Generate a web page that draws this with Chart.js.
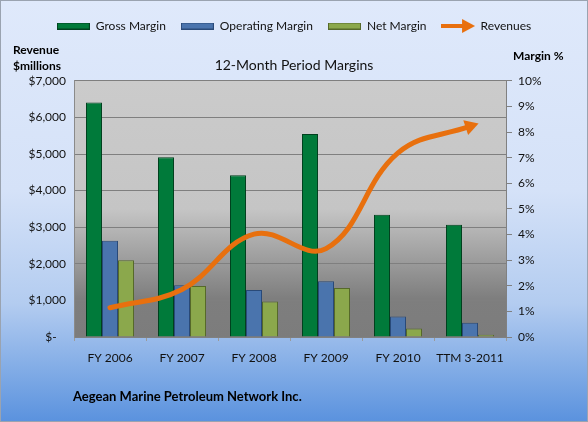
<!DOCTYPE html>
<html>
<head>
<meta charset="utf-8">
<script src="https://cdn.jsdelivr.net/npm/chart.js@4/dist/chart.umd.min.js"></script>
<style>
  html, body { margin: 0; padding: 0; background: #fff; }
  #wrap { width: 588px; height: 422px; }
</style>
</head>
<body>
<div id="wrap"><canvas id="chart" width="588" height="422"></canvas></div>
<script>
// data
const periods = ["FY 2006", "FY 2007", "FY 2008", "FY 2009", "FY 2010", "TTM 3-2011"];
const grossMargin = [9.15, 7.02, 6.31, 7.92, 4.77, 4.38];      // %
const operatingMargin = [3.76, 2.02, 1.83, 2.18, 0.8, 0.56];   // %
const netMargin = [3.0, 1.99, 1.39, 1.91, 0.33, 0.09];         // %
const revenues = [800, 1300, 2810, 2415, 5030, 5760];          // $ millions
const revenueTicks = [0, 1000, 2000, 3000, 4000, 5000, 6000, 7000];
const marginTicks = [0, 1, 2, 3, 4, 5, 6, 7, 8, 9, 10];

const FONT = "Lato, 'Open Sans', sans-serif";
const ORANGE = "#e8700e";

// little legend swatches
function swatch(fill, edge) {
  const c = document.createElement("canvas");
  c.width = 33; c.height = 7;
  const g = c.getContext("2d");
  g.fillStyle = edge; g.fillRect(0, 0, 33, 7);
  g.fillStyle = fill; g.fillRect(1, 1, 31, 5);
  return c;
}
function arrowSwatch() {
  const c = document.createElement("canvas");
  c.width = 34; c.height = 14;
  const g = c.getContext("2d");
  g.strokeStyle = ORANGE; g.fillStyle = ORANGE; g.lineWidth = 4;
  g.beginPath(); g.moveTo(0, 7); g.lineTo(24, 7); g.stroke();
  g.beginPath(); g.moveTo(34, 7); g.lineTo(21, 0); g.lineTo(21, 14); g.closePath(); g.fill();
  return c;
}
const legendIcons = [
  swatch("#007a3a", "#00401e"),
  swatch("#4a74ad", "#2a4a78"),
  swatch("#8ba84c", "#56692a"),
  arrowSwatch()
];

const backdrop = {
  id: "backdrop",
  beforeDraw(chart) {
    const { ctx, width, height, chartArea: a } = chart;
    ctx.save();
    let g = ctx.createLinearGradient(0, 0, 0, height);
    g.addColorStop(0, "#dfe9fb");
    g.addColorStop(0.45, "#d5e2f8");
    g.addColorStop(0.72, "#b3ccf0");
    g.addColorStop(1, "#5a92de");
    ctx.fillStyle = g;
    ctx.fillRect(0, 0, width, height);
    ctx.strokeStyle = "#9aa3b0";
    ctx.lineWidth = 1;
    ctx.strokeRect(0.5, 0.5, width - 1, height - 1);

    g = ctx.createLinearGradient(0, a.top, 0, a.bottom);
    g.addColorStop(0, "#cbcbcb");
    g.addColorStop(0.5, "#c5c5c5");
    g.addColorStop(0.85, "#7e7e7e");
    g.addColorStop(1, "#7c7c7c");
    ctx.fillStyle = g;
    ctx.fillRect(a.left, a.top, a.right - a.left, a.bottom - a.top);
    ctx.restore();
  },
  afterDraw(chart) {
    const { ctx } = chart;
    ctx.save();
    ctx.fillStyle = "#000";
    ctx.textBaseline = "middle";
    ctx.textAlign = "left";
    ctx.font = "bold 12px " + FONT;
    ctx.fillText("Revenue", 13, 50);
    ctx.fillText("$millions", 13, 66);
    ctx.fillText("Margin %", 513, 56);
    ctx.font = "bold 13px " + FONT;
    ctx.fillText("Aegean Marine Petroleum Network Inc.", 73, 397);
    ctx.restore();
  }
};

const barStyle = (fill, edge) => ({
  backgroundColor: fill,
  borderColor: edge,
  borderWidth: 1,
  yAxisID: "y1",
  order: 1,
  barPercentage: 1,
  categoryPercentage: 0.667
});

new Chart(document.getElementById("chart"), {
  type: "bar",
  data: {
    labels: periods,
    datasets: [
      { label: "Gross Margin", data: grossMargin, ...barStyle("#007a3a", "#00401e") },
      { label: "Operating Margin", data: operatingMargin, ...barStyle("#4a74ad", "#2a4a78") },
      { label: "Net Margin", data: netMargin, ...barStyle("#8ba84c", "#56692a") },
      {
        type: "line",
        label: "Revenues",
        data: revenues,
        yAxisID: "y",
        order: 0,
        borderColor: ORANGE,
        backgroundColor: ORANGE,
        borderWidth: 5,
        borderCapStyle: "round",
        tension: 0.4,
        pointStyle: "triangle",
        pointRadius: revenues.map((v, i) => (i === revenues.length - 1 ? 9 : 0)),
        pointRotation: 72,
        pointBackgroundColor: ORANGE,
        pointBorderColor: ORANGE,
        pointBorderWidth: 0
      }
    ]
  },
  options: {
    responsive: false,
    animation: false,
    layout: { padding: { top: 5, left: 0, right: 0, bottom: 50 } },
    plugins: {
      tooltip: { enabled: false },
      legend: {
        position: "top",
        weight: 3000,
        labels: {
          color: "#111",
          font: { family: FONT, size: 12 },
          usePointStyle: true,
          pointStyleWidth: 33,
          padding: 15,
          sort: (a, b) => a.datasetIndex - b.datasetIndex,
          generateLabels(chart) {
            const items = Chart.defaults.plugins.legend.labels.generateLabels(chart);
            items.forEach(it => {
              it.pointStyle = legendIcons[it.datasetIndex];
              it.rotation = 0;
            });
            return items;
          }
        }
      },
      title: {
        display: true,
        text: "12-Month Period Margins",
        color: "#111",
        font: { family: FONT, size: 14, weight: "normal" },
        padding: { top: 15, bottom: 7 }
      }
    },
    scales: {
      x: {
        offset: true,
        grid: { display: true, drawOnChartArea: false, offset: true, tickLength: 4, color: "#9a9a9a" },
        border: { color: "#808080" },
        ticks: { color: "#111", font: { family: FONT, size: 12 }, padding: 10, maxRotation: 0 },
        afterFit(s) { s.height = 35; }
      },
      y: {
        position: "left",
        min: 0,
        max: 7000,
        afterBuildTicks(s) { s.ticks = revenueTicks.map(v => ({ value: v })); },
        grid: { color: "#7f7f7f", drawTicks: false },
        border: { color: "#8a8a8a" },
        ticks: {
          color: "#111",
          font: { family: FONT, size: 12 },
          padding: 8,
          callback: v => (v === 0 ? "$-   " : "$" + v.toLocaleString("en-US"))
        },
        afterFit(s) { s.width = 74; }
      },
      y1: {
        position: "right",
        min: 0,
        max: 10,
        afterBuildTicks(s) { s.ticks = marginTicks.map(v => ({ value: v })); },
        grid: { drawOnChartArea: false, color: "#808080", tickLength: 6 },
        border: { color: "#808080" },
        ticks: { color: "#111", font: { family: FONT, size: 12 }, padding: 6, callback: v => v + "%" },
        afterFit(s) { s.width = 82; }
      }
    }
  },
  plugins: [backdrop]
});
</script>
</body>
</html>
